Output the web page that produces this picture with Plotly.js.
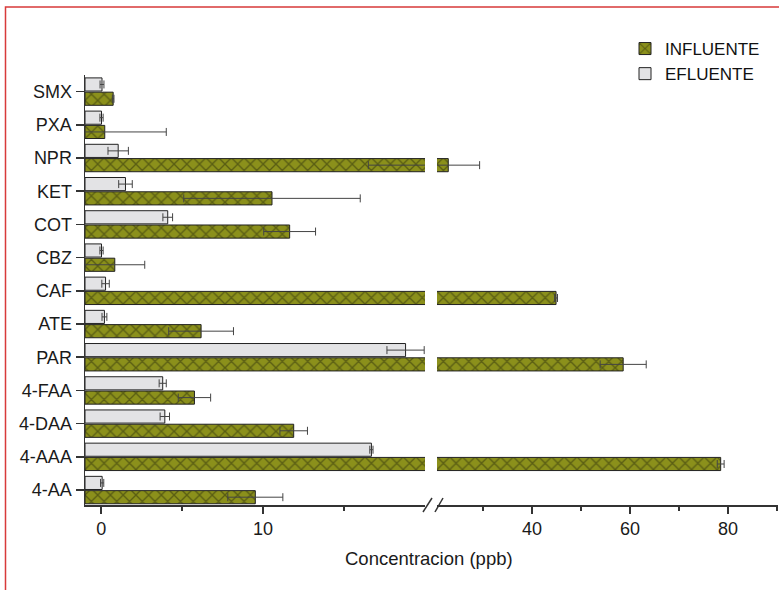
<!DOCTYPE html>
<html>
<head>
<meta charset="utf-8">
<script src="https://cdn.plot.ly/plotly-3.0.1.min.js"></script>
<style>html,body{margin:0;padding:0;background:#fff;}</style>
</head>
<body>
<div id="chart" style="width:779px;height:590px;"></div>
<script>
// Categories listed bottom -> top
const categories = ["4-AA","4-AAA","4-DAA","4-FAA","PAR","ATE","CAF","CBZ","COT","KET","NPR","PXA","SMX"];
const influente    = [9.52, 78.5, 11.89, 5.76, 58.6, 6.17, 44.9, 0.84, 11.64, 10.55, 22.9, 0.22, 0.74];
const influenteErr = [1.7, 0.7, 0.85, 1.0, 4.7, 2.0, 0.3, 1.85, 1.6, 5.45, 6.4, 3.8, 0.05];
const efluente     = [0.06, 16.69, 3.93, 3.8, 18.8, 0.2, 0.27, 0.02, 4.11, 1.5, 1.05, 0.02, 0.05];
const efluenteErr  = [0.1, 0.1, 0.29, 0.22, 1.15, 0.15, 0.23, 0.1, 0.3, 0.42, 0.63, 0.1, 0.12];
const xTickLeft = [0, 10];
const xTickRight = [40, 60, 80];

const W = 779, H = 590;
const M = {l: 85, r: 1, t: 75, b: 85};
const PW = W - M.l - M.r, PH = H - M.t - M.b;
const px = x => (x - M.l) / PW;           // pixel -> paper x
const py = y => (H - M.b - y) / PH;       // pixel -> paper y

const leftRange = [-1, 20];
const rightRange = [20.6, 90.2];
const baseVal = leftRange[0];             // bars start at axis start
const FONT = "Liberation Sans, Arial, sans-serif";

const green = "#8b901b", greenHatch = "#2a2c0c", gray = "#e3e3e5", edge = "#222";

function mk(name, vals, errs, color, hatch, xa, show) {
  const m = {color: color, line: {color: edge, width: 1}};
  if (hatch) m.pattern = {shape: "x", fillmode: "overlay", fgcolor: greenHatch, size: 9, solidity: 0.28};
  return {
    type: "bar", orientation: "h", name: name, showlegend: show,
    y: categories, x: vals.map(v => v - baseVal), base: baseVal,
    marker: m, xaxis: xa, yaxis: "y",
    error_x: {type: "data", array: errs, visible: true, color: "#444", thickness: 1, width: 4},
    hoverinfo: "skip"
  };
}

const data = [
  mk("INFLUENTE", influente, influenteErr, green, true, "x", true),
  mk("EFLUENTE", efluente, efluenteErr, gray, false, "x", true),
  mk("INFLUENTE", influente, influenteErr, green, true, "x2", false),
  mk("EFLUENTE", efluente, efluenteErr, gray, false, "x2", false)
];

const axLine = {showline: true, linecolor: "#333", linewidth: 1.5, ticks: "outside", tickcolor: "#333", tickwidth: 1.5,
  showgrid: false, zeroline: false, tickfont: {family: FONT, size: 18, color: "#1a1a1a"}};

const layout = {
  width: W, height: H, margin: M,
  paper_bgcolor: "#fff", plot_bgcolor: "rgba(0,0,0,0)",
  barmode: "group", bargap: 0.14, bargroupgap: 0.08,
  font: {family: FONT, size: 18, color: "#1a1a1a"},
  xaxis: Object.assign({}, axLine, {domain: [0, px(425)], range: leftRange, anchor: "y",
    tickvals: xTickLeft, ticklen: 7, minor: {tickvals: [5, 15], ticks: "outside", ticklen: 4, tickcolor: "#333", tickwidth: 1.5}}),
  xaxis2: Object.assign({}, axLine, {domain: [px(437), 1], range: rightRange, anchor: "y",
    tickvals: xTickRight, ticklen: 7, minor: {tickvals: [30, 50, 70, 90], ticks: "outside", ticklen: 4, tickcolor: "#333", tickwidth: 1.5}}),
  yaxis: Object.assign({}, axLine, {type: "category", range: [-0.45, 12.5], anchor: "x", ticklen: 8}),
  yaxis2: {overlaying: "y", anchor: "x", side: "left", range: [-0.45, 12.5], tickmode: "linear", tick0: 0.5, dtick: 1,
    ticks: "outside", ticklen: 4, tickwidth: 1.5, tickcolor: "#333", showticklabels: false, showgrid: false, zeroline: false, showline: false},
  legend: {x: px(625), y: py(31), xanchor: "left", yanchor: "top", bgcolor: "rgba(0,0,0,0)",
    font: {family: FONT, size: 17, color: "#111"}, traceorder: "normal"},
  showlegend: true,
  annotations: [{text: "Concentracion (ppb)", xref: "paper", yref: "paper", x: px(429), y: py(558),
    xanchor: "center", yanchor: "middle", showarrow: false, font: {family: FONT, size: 18.5, color: "#1a1a1a"}}],
  shapes: [
    {type: "line", xref: "paper", yref: "paper", x0: px(423), y0: py(512), x1: px(432), y1: py(498), line: {color: "#333", width: 1.5}},
    {type: "line", xref: "paper", yref: "paper", x0: px(435), y0: py(512), x1: px(443), y1: py(498), line: {color: "#333", width: 1.5}},
    {type: "rect", xref: "paper", yref: "paper", x0: px(5.5), y0: -3, x1: 3, y1: py(7), line: {color: "#d83a3a", width: 1.5}}
  ]
};

Plotly.newPlot("chart", data, layout, {displayModeBar: false, staticPlot: true});
</script>
</body>
</html>
